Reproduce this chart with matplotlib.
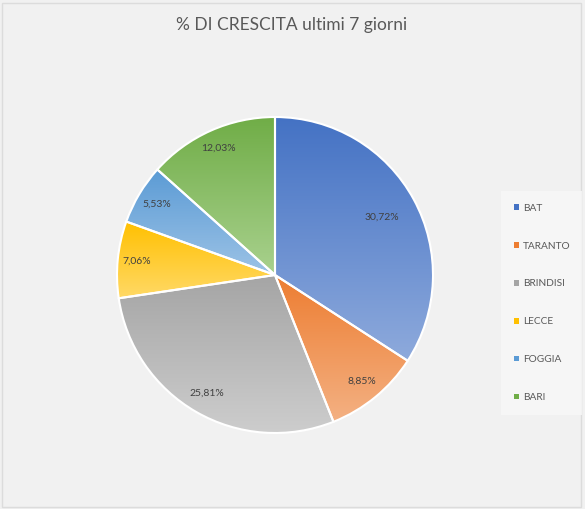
import numpy as np
import matplotlib.pyplot as plt
from matplotlib.colors import LinearSegmentedColormap
from matplotlib.patches import Rectangle

# data
province = ["BAT", "TARANTO", "BRINDISI", "LECCE", "FOGGIA", "BARI"]
crescita = [30.72, 8.85, 25.81, 7.06, 5.53, 12.03]
etichette = ["30,72%", "8,85%", "25,81%", "7,06%", "5,53%", "12,03%"]

# gradient colours, top -> bottom of each slice
col_top = ["#4472c4", "#ed7d31", "#a5a5a5", "#ffc000", "#5b9bd5", "#70ad47"]
col_bot = ["#8eaadc", "#f4b183", "#cdcdcd", "#ffd966", "#9dc3e6", "#a9d18e"]
label_dist = [0.77, 0.87, 0.86, 0.88, 0.87, 0.88]

plt.rcParams['font.family'] = ['Lato', 'DejaVu Sans']

W, H = 585, 509
fig = plt.figure(figsize=(W / 100, H / 100), dpi=100, facecolor="#f1f1f1")

# chart area border
fig.patches.append(Rectangle((2 / W, 2 / H), 579 / W, 504 / H, transform=fig.transFigure,
                             facecolor="none", edgecolor="#dcdcdc", lw=1, zorder=-1))

cx, cy, r = 275, H - 275, 158
ax = fig.add_axes([(cx - r) / W, (cy - r) / H, 2 * r / W, 2 * r / H])
wedges, _ = ax.pie(crescita, startangle=90, counterclock=False,
                   wedgeprops=dict(edgecolor="white", linewidth=1.5))

grad = np.linspace(0, 1, 256).reshape(-1, 1)
for i, w in enumerate(wedges):
    ext = w.get_path().get_extents()
    cmap = LinearSegmentedColormap.from_list("g%d" % i, [col_top[i], col_bot[i]])
    im = ax.imshow(grad, cmap=cmap, extent=(ext.x0, ext.x1, ext.y0, ext.y1),
                   origin="upper", aspect="auto", interpolation="bicubic", zorder=0)
    im.set_clip_path(w)
    w.set_facecolor("none")
    w.set_zorder(2)
    mid = np.deg2rad((w.theta1 + w.theta2) / 2)
    d = label_dist[i]
    ax.text(d * np.cos(mid), d * np.sin(mid), etichette[i], ha="center", va="center",
            fontsize=7.5, color="#404040", zorder=3)

ax.set_xlim(-1, 1)
ax.set_ylim(-1, 1)
ax.set_aspect("equal")
ax.axis("off")

fig.text(292 / W, 1 - 25 / H, "% DI CRESCITA ultimi 7 giorni", ha="center", va="center",
         fontsize=12.5, color="#595959")

leg = fig.legend(wedges, province, loc="upper left",
                 bbox_to_anchor=(501 / W, 1 - 191 / H, 81 / W, 0.0001), mode="expand",
                 fontsize=7.3, labelspacing=2.85, handlelength=0.5, handleheight=0.5,
                 handletextpad=0.45, borderpad=1.25, borderaxespad=0, frameon=True,
                 fancybox=False, facecolor="#f8f8f8", edgecolor="none", labelcolor="#595959")
leg.get_frame().set_linewidth(0)
for h, c in zip(leg.legend_handles, col_top):
    h.set_facecolor(c)
    h.set_edgecolor("none")

fig.savefig("out.png", dpi=100, facecolor=fig.get_facecolor())
